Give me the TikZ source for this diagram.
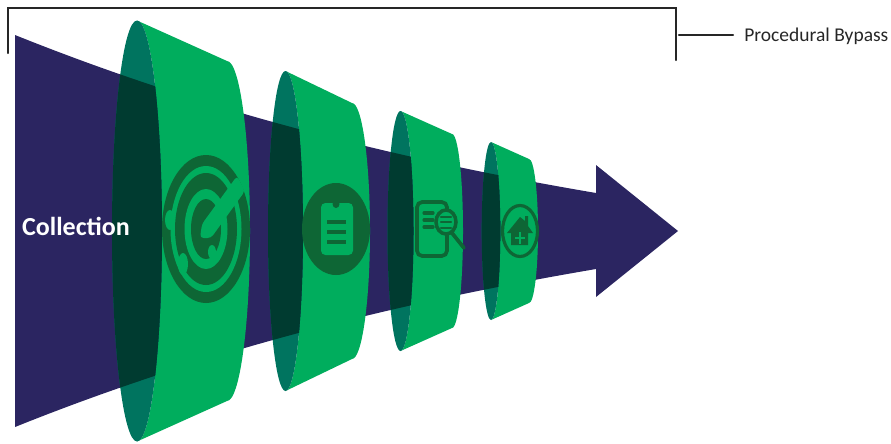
\documentclass[tikz,border=0pt]{standalone}
\usepackage{fontspec}
\setmainfont{Carlito}
\usepackage{xcolor}
\usepackage{tikz}
\definecolor{funnelnavy}{HTML}{2B2561}
\definecolor{ringgreen}{HTML}{00AD5D}
\definecolor{ringteal}{HTML}{00745F}
\definecolor{ringdark}{HTML}{003B30}
\definecolor{icongreen}{HTML}{0E6635}

\begin{document}
\begin{tikzpicture}[
  x=0.02cm, y=-0.02cm,
  brk/.style={draw=black!85, line width=1.4pt, line cap=round},
  iconline/.style={draw=icongreen, line cap=round},
  arrowshape/.style={insert path={
    (15,35) .. controls (209,113) and (402,160) .. (596,193)
    -- (596,165) -- (678,231) -- (596,297) -- (596,269)
    .. controls (402,302) and (209,349) .. (15,427) -- cycle}}
]
\useasboundingbox (0,0) rectangle (891,443);

%% funnel arrow
\fill[funnelnavy, arrowshape];

%% rings: point x / half height / rx left / corner x / half height / rx right
\foreach \xp/\Rp/\rl/\xq/\Rq/\rr in {137/210.5/25/227/170/23,
    285.5/160/17.5/352/128/18, 400.5/120/13/452/97/11, 491/89/9.3/529/72/9} {
  \fill[ringgreen] (\xp,231-\Rp) -- (\xq,231-\Rq)
    arc (-90:90:\rr\space and \Rq) -- (\xp,231+\Rp)
    arc (90:-90:\rl\space and \Rp) -- cycle;
  \fill[ringteal] (\xp,231-\Rp) arc (-90:-270:\rl\space and \Rp)
    arc (90:-90:\rl\space and \Rp) -- cycle;
  \begin{scope}
    \clip[arrowshape];
    \fill[ringdark] (\xp,231-\Rp) arc (-90:-270:\rl\space and \Rp)
      arc (90:-90:\rl\space and \Rp) -- cycle;
  \end{scope}
}

%% radar icon
\fill[icongreen] (206,229) ellipse (44 and 74);
\fill[ringgreen] (206,229) ellipse (35.5 and 63);
\fill[icongreen] (206,229) ellipse (31 and 56);
\fill[ringgreen] (206,229) ellipse (21.5 and 40);
\fill[icongreen] (206,229) ellipse (15 and 30);
\fill[ringgreen, rounded corners=2pt] (200,238) -- (202,224) -- (237,176)
  -- (245,191) -- (211,238) -- cycle;
\fill[ringgreen] (170,220) ellipse (5 and 10);
\fill[ringgreen] (183,264) ellipse (5 and 11);
\fill[ringgreen] (212,252) ellipse (4 and 7);

%% clipboard icon
\fill[icongreen] (336,229) ellipse (34 and 46);
\fill[ringgreen, rounded corners=2.5pt] (321,203) rectangle (353,255);
\fill[icongreen] (336,204) ellipse (3.5 and 4);
\foreach \yl in {222,232,242}
  \draw[iconline, line width=2.2pt, line cap=butt] (327,\yl) -- (346,\yl);

%% document search icon
\draw[iconline, line width=2.1pt, rounded corners=3pt] (417,202) rectangle (447,256);
\draw[iconline, line width=2.1pt] (452,233) -- (464,248);
\filldraw[draw=icongreen, fill=ringgreen, line width=2pt] (446,222) ellipse (10 and 12);
\foreach \yl in {213,220,227}
  \draw[iconline, line width=1.8pt] (424,\yl) -- (433,\yl);
\foreach \yl in {217,222,228}
  \draw[iconline, line width=1.4pt] (441,\yl) -- (451,\yl);

%% house icon
\draw[icongreen, line width=1.8pt] (520,231) ellipse (17.5 and 25.5);
\fill[icongreen] (520,217) -- (525,221) -- (525,216) -- (528,216) -- (528,226)
  -- (533,233) -- (528,233) -- (528,245) -- (511,245) -- (511,233) -- (507,233) -- cycle;
\draw[ringgreen, line width=1.1pt] (515,238) -- (525,238) (520,232) -- (520,244);

%% labels
\node[font=\fontsize{14.8}{16}\selectfont\bfseries, text=white, inner sep=0pt]
  (collect) at (76,226) {Collection};
\node[font=\fontsize{11.1}{13}\selectfont, text=black!85, anchor=west, inner sep=0.22cm]
  (bypass) at (733,36) {Procedural Bypass};

%% bracket
\coordinate (brkL) at (8,53);
\coordinate (brkTL) at (8,8);
\coordinate (brkTR) at (676,8);
\coordinate (brkR) at (676,60);
\coordinate (brkM) at (679,35);
\draw[brk] (brkL) -- (brkTL) -- (brkTR) -- (brkR);
\draw[brk] (brkM) -- (brkM -| bypass.west);

\end{tikzpicture}
\end{document}
